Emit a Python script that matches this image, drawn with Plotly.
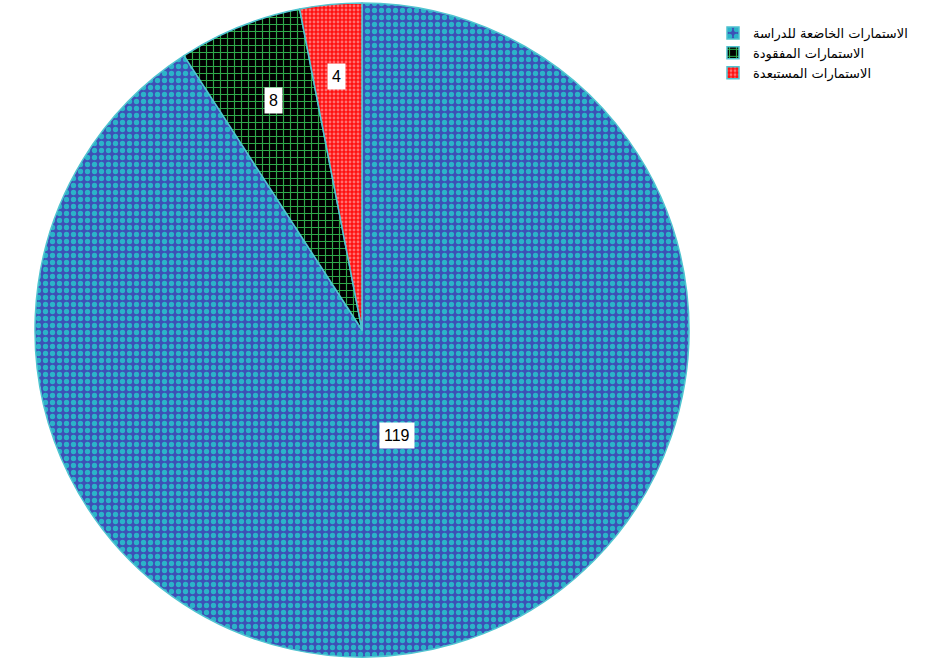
import math
import plotly.graph_objects as go

labels = ["الاستمارات الخاضعة للدراسة", "الاستمارات المفقودة", "الاستمارات المستبعدة"]
values = [119, 8, 4]
bg_colors = ["#3D50B6", "#000000", "#FF1010"]
fg_colors = ["#2BB3C9", "#2FA84A", "#FF7070"]
shapes = [".", "+", "."]
label_radius = [0.38, 0.80, 0.82]

W, H = 926, 661
cx, cy, R = 362, 330, 327

fig = go.Figure(go.Pie(
    labels=labels,
    values=values,
    sort=False,
    direction="clockwise",
    rotation=0,
    textinfo="none",
    hoverinfo="label+value",
    marker=dict(
        colors=bg_colors,
        line=dict(color="#4FC4D0", width=1.5),
        pattern=dict(shape=shapes, fgcolor=fg_colors, bgcolor=bg_colors,
                     size=[7, 7, 4], solidity=[0.45, 0.3, 0.4], fillmode="replace"),
    ),
    domain=dict(x=[(cx - R) / W, (cx + R) / W], y=[1 - (cy + R) / H, 1 - (cy - R) / H]),
))

total = sum(values)
cum = 0
annotations = []
for v, f in zip(values, label_radius):
    mid = (cum + v / 2) / total * 2 * math.pi
    cum += v
    px = cx + math.sin(mid) * R * f
    py = cy - math.cos(mid) * R * f
    annotations.append(dict(
        x=px / W, y=1 - py / H, xref="paper", yref="paper", text=str(v),
        showarrow=False, bgcolor="white", borderpad=4,
        font=dict(family="Liberation Sans, Arial", size=16, color="black"),
    ))

fig.update_layout(
    width=W, height=H,
    margin=dict(l=0, r=0, t=0, b=0),
    paper_bgcolor="white", plot_bgcolor="white",
    annotations=annotations,
    legend=dict(x=713 / W, y=1 - 18 / H, xanchor="left", yanchor="top",
                font=dict(family="DejaVu Sans", size=13, color="black"),
                itemwidth=30, tracegroupgap=0),
)
fig.write_html("out.html")
